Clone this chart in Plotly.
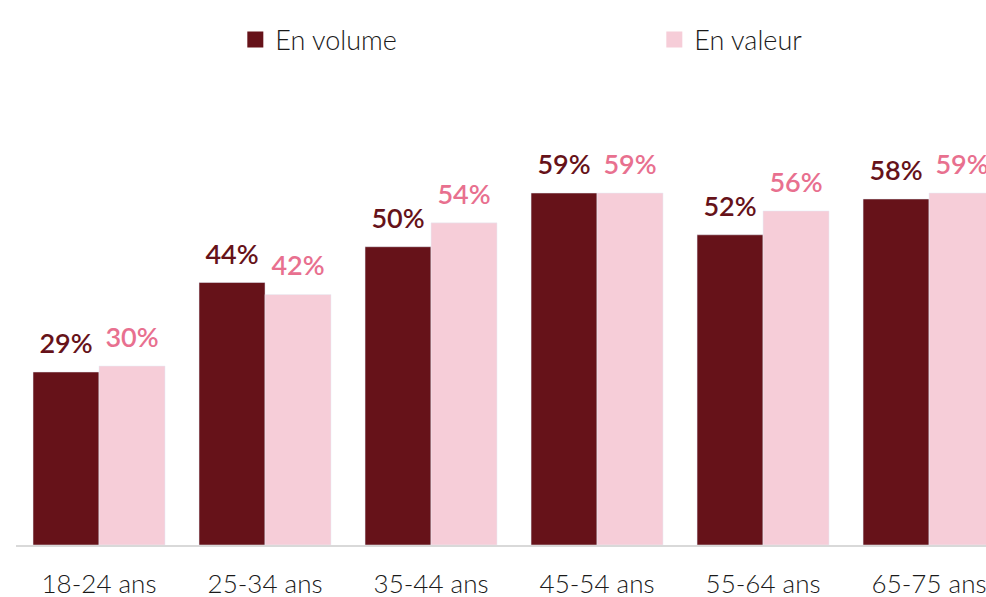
import plotly.graph_objects as go

categories = ["18-24 ans", "25-34 ans", "35-44 ans", "45-54 ans", "55-64 ans", "65-75 ans"]
volume = [29, 44, 50, 59, 52, 58]
valeur = [30, 42, 54, 59, 56, 59]
series_names = ["En volume", "En valeur"]

DARK = "#661219"
PINK = "#F6CDD8"
PINK_TXT = "#E8708F"
FONT = "Lato"

fig = go.Figure()
series = [(series_names[0], volume, DARK, DARK), (series_names[1], valeur, PINK, PINK_TXT)]
for i, (name, vals, col, tcol) in enumerate(series):
    fig.add_trace(go.Bar(
        x=categories, y=vals, name=name, marker_color=col,
        offsetgroup=str(i), showlegend=False, hoverinfo="skip",
    ))
for i, (name, vals, col, tcol) in enumerate(series):
    fig.add_trace(go.Scatter(
        x=categories, y=vals, mode="markers+text", name=name,
        offsetgroup=str(i),
        text=[f"{v}%" for v in vals], textposition="top center",
        marker=dict(size=18, opacity=0, color=col),
        textfont=dict(color=tcol, size=27, family=FONT, weight=600),
        cliponaxis=False, showlegend=False, hoverinfo="skip",
    ))
for i, (name, vals, col, tcol) in enumerate(series):
    fig.add_trace(go.Scatter(
        x=[None], y=[None], mode="markers", name=name,
        marker=dict(symbol="square", size=20, color=col),
        showlegend=True,
    ))

fig.update_layout(
    width=986, height=597,
    margin=dict(l=16, r=0, t=60, b=52, autoexpand=False),
    plot_bgcolor="white", paper_bgcolor="white",
    barmode="group", bargap=0.205, bargroupgap=0,
    scattermode="group", scattergap=0.205,
    font=dict(family=FONT, color="#1a1a1a"),
    legend=dict(orientation="h", x=0.2261, xanchor="left", y=0.933, yanchor="middle",
                yref="container",
                font=dict(size=27, family=FONT, color="#1a1a1a", weight=300),
                entrywidth=374, entrywidthmode="pixels", itemsizing="trace"),
    xaxis=dict(range=[-0.5, 5.343], showline=True, linecolor="#d9d9d9", linewidth=2,
               ticks="", tickfont=dict(size=26, family=FONT, color="#1a1a1a", weight=300),
               ticklabelstandoff=15, automargin=False,
               showgrid=False, fixedrange=True),
    yaxis=dict(range=[0, 81.3], visible=False, showgrid=False, zeroline=False, automargin=False),
)

fig.write_html("out.html", config={"displayModeBar": False},
               post_script="document.body.style.margin='0';document.body.style.overflow='hidden';")
